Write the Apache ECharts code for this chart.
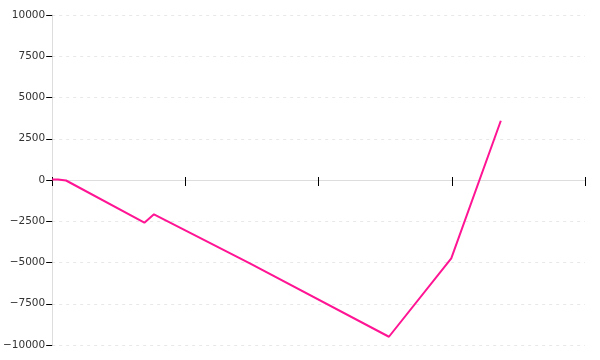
<!DOCTYPE html>
<html>
<head>
<meta charset="utf-8">
<script src="https://cdn.jsdelivr.net/npm/echarts@6/dist/echarts.min.js"></script>
<style>html,body{margin:0;padding:0;background:#fff;}#c{width:600px;height:360px;}</style>
</head>
<body>
<div id="c"></div>
<script>
var xValues = [0, 1.1, 2.6, 17.3, 19.1, 37.1, 63.2, 74.9, 84.2];
var yValues = [30, 30, -30, -2590, -2080, -5050, -9500, -4750, 3590];
var yTicks = [-10000, -7500, -5000, -2500, 0, 2500, 5000, 7500, 10000];

var data = xValues.map(function (x, i) { return [x, yValues[i]]; });
var chart = echarts.init(document.getElementById('c'), null, {renderer: 'canvas'});
var labelFont = {fontFamily: 'DejaVu Sans', fontSize: 10.5, color: '#333'};
chart.setOption({
  animation: false,
  grid: {left: 52, right: 15, top: 15, bottom: 15, containLabel: false},
  xAxis: [{
    type: 'value', min: 0, max: 100, interval: 25,
    axisLine: {onZero: true, lineStyle: {color: '#ddd', width: 1}},
    axisTick: {show: true, length: 6, lineStyle: {color: '#000', width: 1}},
    axisLabel: {show: false},
    splitLine: {show: false}
  }, {
    type: 'value', min: 0, max: 100, interval: 25, position: 'top', offset: -165,
    axisLine: {onZero: false, show: false},
    axisTick: {show: true, length: 3, lineStyle: {color: '#000', width: 1}},
    axisLabel: {show: false},
    splitLine: {show: false}
  }],
  yAxis: {
    type: 'value', min: yTicks[0], max: yTicks[yTicks.length - 1], interval: 2500,
    axisLine: {show: true, lineStyle: {color: '#ddd'}},
    axisTick: {show: true, length: 6, lineStyle: {color: '#000'}},
    axisLabel: Object.assign({margin: 7, formatter: function (v) { return String(v).replace('-', '\u2212'); }}, labelFont),
    splitLine: {show: true, lineStyle: {color: '#e8e8e8', type: [3, 4], width: 1}}
  },
  series: [{
    type: 'line', data: data, xAxisIndex: 0, showSymbol: false, symbol: 'none',
    lineStyle: {color: '#ff1493', width: 2}, z: 5
  }]
});
</script>
</body>
</html>
